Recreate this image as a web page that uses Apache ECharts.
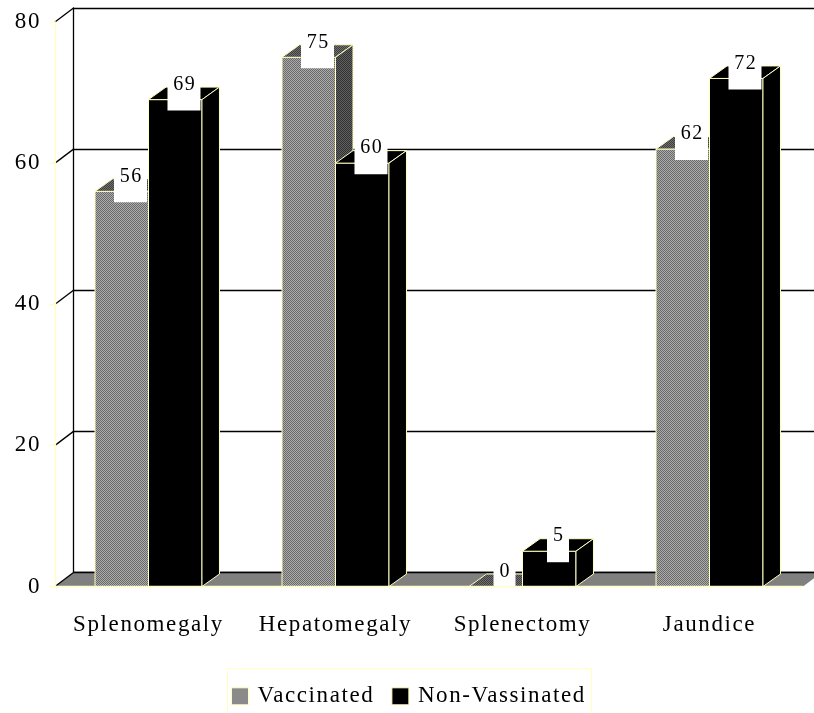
<!DOCTYPE html>
<html>
<head>
<meta charset="utf-8">
<script src="https://cdn.jsdelivr.net/npm/echarts@6/dist/echarts.min.js"></script>
<style>
  html, body { margin: 0; padding: 0; background: #fff; }
  #chart { width: 814px; height: 713px; }
</style>
</head>
<body>
<div id="chart"></div>
<script>
// Chart data
const categories = ['Splenomegaly', 'Hepatomegaly', 'Splenectomy', 'Jaundice'];
const vaccinated = [56, 75, 0, 62];
const nonVaccinated = [69, 60, 5, 72];
const yTicks = [0, 20, 40, 60, 80];
const seriesNames = ['Vaccinated', 'Non-Vassinated'];

// Styling constants
const EDGE = '#ffffc0';
const FONT = 'Liberation Serif, serif';
const LETTER_SPACING = '1.6px';
const WALL_DX = 18.5, WALL_DY = -14;   // depth of the back wall / floor
const BAR_DX = 17.5, BAR_DY = -12.5;   // depth of each 3D column
const BAR_FRACTION = 0.286;            // column width as part of a category band

// Slightly spaced-out lettering for all canvas text (drawing and measuring)
(function () {
  const proto = CanvasRenderingContext2D.prototype;
  if (!('letterSpacing' in proto)) return;
  ['fillText', 'strokeText', 'measureText'].forEach(function (fn) {
    const orig = proto[fn];
    proto[fn] = function () {
      this.letterSpacing = LETTER_SPACING;
      return orig.apply(this, arguments);
    };
  });
})();

// Small dithered tile used for the grey columns
function ditherTile(dark, light) {
  const c = document.createElement('canvas');
  c.width = 2; c.height = 2;
  const ctx = c.getContext('2d');
  for (let y = 0; y < 2; y++) {
    for (let x = 0; x < 2; x++) {
      ctx.fillStyle = (x + y) % 2 === 0 ? dark : light;
      ctx.fillRect(x, y, 1, 1);
    }
  }
  return { image: c, repeat: 'repeat' };
}
const greyFront = ditherTile('#6a6a6a', '#ababab');
const greyTop = ditherTile('#3e3e3e', '#707070');
const greySide = ditherTile('#303030', '#626262');

const faceStyles = [
  { front: greyFront, top: greyTop, side: greySide },
  { front: '#000', top: '#000', side: '#000' }
];

function bandWidth(api) { return api.size([1, 0])[0]; }

// 3D column with its value label
function columnRenderer(seriesIdx) {
  return function (params, api) {
    const idx = api.value(0);
    const v = api.value(1);
    const band = bandWidth(api);
    const barW = band * BAR_FRACTION;
    const base = api.coord([idx, 0]);
    const topPt = api.coord([idx, v]);
    const x0 = seriesIdx === 0 ? base[0] - barW : base[0];
    const x1 = x0 + barW;
    const yT = topPt[1], yB = base[1];
    const fs = faceStyles[seriesIdx];
    const edge = { stroke: EDGE, lineWidth: 1 };
    const txt = String(v);
    const boxW = txt.length * 11 + 11;
    const cx = (x0 + x1) / 2 + BAR_DX / 2;
    return {
      type: 'group',
      children: [
        {
          type: 'rect',
          shape: { x: x0, y: yT, width: barW, height: yB - yT },
          style: Object.assign({ fill: fs.front }, edge)
        },
        {
          type: 'polygon',
          shape: { points: [[x0, yT], [x1, yT], [x1 + BAR_DX, yT + BAR_DY], [x0 + BAR_DX, yT + BAR_DY]] },
          style: Object.assign({ fill: fs.top }, edge)
        },
        {
          type: 'polygon',
          shape: { points: [[x1, yT], [x1 + BAR_DX, yT + BAR_DY], [x1 + BAR_DX, yB + BAR_DY], [x1, yB]] },
          style: Object.assign({ fill: fs.side }, edge)
        },
        {
          type: 'rect',
          shape: { x: cx - boxW / 2, y: yT - 23, width: boxW, height: 34 },
          style: { fill: '#fff' }
        },
        {
          type: 'text',
          style: {
            x: cx + 0.8, y: yT - 15, text: txt, fill: '#000',
            font: '20px ' + FONT,
            align: 'center', verticalAlign: 'middle'
          }
        }
      ]
    };
  };
}

// Grey floor under the columns
function floorRenderer(params, api) {
  const band = bandWidth(api);
  const p = api.coord([0, 0]);
  const left = p[0] - band / 2;
  const right = left + band * categories.length;
  const y = p[1];
  return {
    type: 'group',
    children: [
      {
        type: 'polygon',
        shape: { points: [[left, y], [right, y], [right + WALL_DX, y + WALL_DY], [left + WALL_DX, y + WALL_DY]] },
        style: { fill: '#808080' }
      },
      {
        type: 'line',
        shape: { x1: left + WALL_DX, y1: y + WALL_DY, x2: right + WALL_DX, y2: y + WALL_DY },
        style: { stroke: '#000', lineWidth: 1.3 }
      }
    ]
  };
}

// Side-wall lines joining the front axis ticks to the back wall
function sideWallRenderer(params, api) {
  const band = bandWidth(api);
  const p = api.coord([0, api.value(1)]);
  const left = p[0] - band / 2;
  return {
    type: 'line',
    shape: { x1: left, y1: p[1], x2: left + WALL_DX, y2: p[1] + WALL_DY },
    style: { stroke: '#000', lineWidth: 1.3 }
  };
}

const chart = echarts.init(document.getElementById('chart'), null, { renderer: 'canvas', width: 814, height: 713 });

chart.setOption({
  animation: false,
  backgroundColor: '#fff',
  textStyle: { fontFamily: FONT },
  grid: [
    { left: 55, right: 11, top: 22, bottom: 126.5 },          // front plane
    { left: 73.5, right: -7.5, top: 8, bottom: 140.5 }        // back wall
  ],
  xAxis: [
    {
      type: 'category', gridIndex: 0, data: categories, z: 5,
      axisLine: { lineStyle: { color: EDGE, width: 1.3 } },
      axisTick: { length: 10, lineStyle: { color: EDGE, width: 1.3 } },
      axisLabel: { color: '#000', fontFamily: FONT, fontSize: 23, margin: 26, interval: 0, hideOverlap: false },
      splitLine: { show: false }
    },
    { type: 'category', gridIndex: 1, data: categories, show: false }
  ],
  yAxis: [
    {
      type: 'value', gridIndex: 0, min: 0, max: 80, interval: 20, z: 5,
      axisLine: { show: true, lineStyle: { color: EDGE, width: 1.3 } },
      axisTick: { show: true, length: 6, lineStyle: { color: EDGE, width: 1.3 } },
      axisLabel: { color: '#000', fontFamily: FONT, fontSize: 23, margin: 14 },
      splitLine: { show: false }
    },
    {
      type: 'value', gridIndex: 1, min: 0, max: 80, interval: 20,
      axisLine: { show: true, lineStyle: { color: '#000', width: 1.3 } },
      axisTick: { show: false },
      axisLabel: { show: false },
      splitLine: { show: true, lineStyle: { color: '#000', width: 1.3 } }
    }
  ],
  graphic: [
    {
      type: 'rect', left: 227, top: 668, z: -1, silent: true,
      shape: { width: 364, height: 60 },
      style: { fill: '#fff', stroke: EDGE, lineWidth: 1 }
    }
  ],
  legend: {
    data: seriesNames,
    left: 227, top: 668,
    padding: [16, 8, 20, 4],
    icon: 'rect',
    itemWidth: 17, itemHeight: 17, itemGap: 17,
    itemStyle: { borderColor: EDGE, borderWidth: 1 },
    textStyle: { color: '#000', fontFamily: FONT, fontSize: 23, padding: [0, 0, 0, 4] }
  },
  series: [
    {
      type: 'custom', xAxisIndex: 0, yAxisIndex: 0, z: 1, silent: true,
      renderItem: floorRenderer,
      data: [[0, 0]]
    },
    {
      type: 'custom', xAxisIndex: 0, yAxisIndex: 0, z: 1, silent: true,
      renderItem: sideWallRenderer,
      data: yTicks.map(v => [0, v])
    },
    {
      name: seriesNames[0], type: 'custom', xAxisIndex: 0, yAxisIndex: 0, z: 2,
      itemStyle: { color: greyFront },
      renderItem: columnRenderer(0),
      data: vaccinated.map((v, i) => [i, v])
    },
    {
      name: seriesNames[1], type: 'custom', xAxisIndex: 0, yAxisIndex: 0, z: 3,
      itemStyle: { color: '#000' },
      renderItem: columnRenderer(1),
      data: nonVaccinated.map((v, i) => [i, v])
    }
  ]
});
</script>
</body>
</html>
